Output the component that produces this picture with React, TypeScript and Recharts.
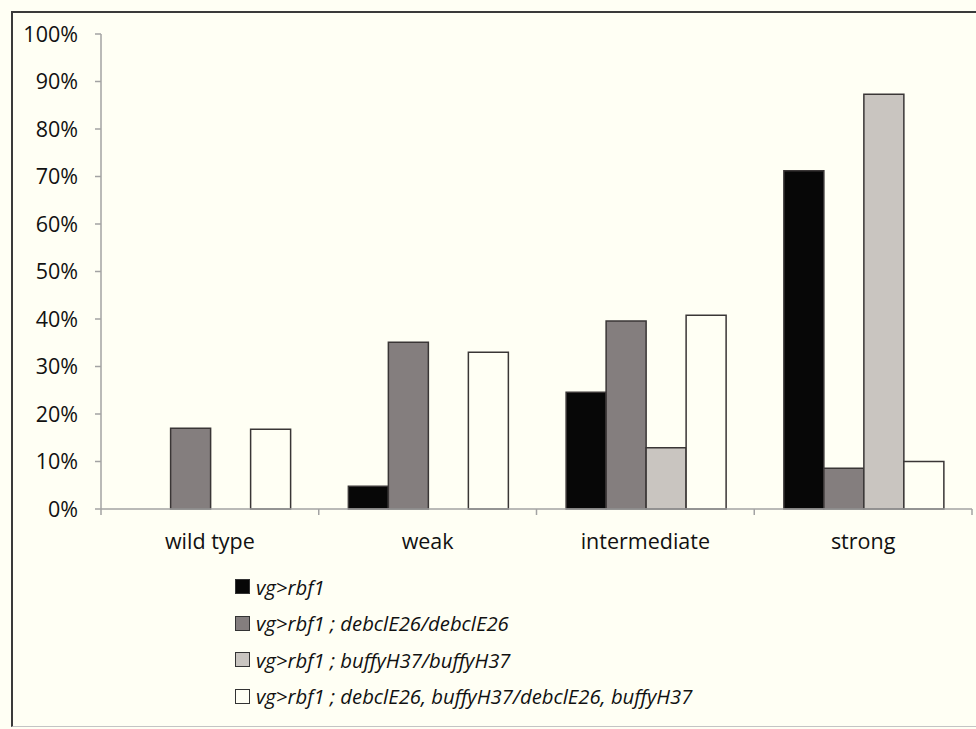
import React from 'react';
import { BarChart, Bar, XAxis, YAxis, Legend } from 'recharts';

const categories = ['wild type', 'weak', 'intermediate', 'strong'];
const vgRbf1 = [0, 4.8, 24.6, 71.2];
const vgRbf1Debcl = [17.0, 35.1, 39.6, 8.6];
const vgRbf1Buffy = [0, 0, 12.9, 87.3];
const vgRbf1DebclBuffy = [16.8, 33.0, 40.8, 10.0];
const yTicks = [0, 10, 20, 30, 40, 50, 60, 70, 80, 90, 100];

const seriesNames = [
  'vg>rbf1',
  'vg>rbf1 ; debclE26/debclE26',
  'vg>rbf1 ; buffyH37/buffyH37',
  'vg>rbf1 ; debclE26, buffyH37/debclE26, buffyH37',
];
const seriesKeys = ['s1', 's2', 's3', 's4'];
const seriesColors = ['#070707', '#847e7e', '#c9c5c0', '#fffff4'];

const data = categories.map((c, i) => ({
  name: c,
  s1: vgRbf1[i],
  s2: vgRbf1Debcl[i],
  s3: vgRbf1Buffy[i],
  s4: vgRbf1DebclBuffy[i],
}));

const BG = '#fffff4';
const AXIS = '#a3a3a3';
const TEXT = '#111111';
const FONT = '"Open Sans", sans-serif';
const FS = 21.5;
const LEGEND_FS = 20.3;

const XTick = (props: any) => {
  const { x, y, payload, index, width } = props;
  const n = categories.length;
  const band = typeof width === 'number' && width > 0 ? width / n : 217.75;
  const axisY = y - 6;
  const left = x - band / 2;
  return (
    <g>
      <line x1={left} x2={left} y1={axisY} y2={axisY + 6} stroke={AXIS} strokeWidth={1.5} />
      {index === n - 1 && (
        <line x1={left + band} x2={left + band} y1={axisY} y2={axisY + 6} stroke={AXIS} strokeWidth={1.5} />
      )}
      <text x={x} y={axisY + 40} textAnchor="middle" fill={TEXT} fontFamily={FONT} fontSize={FS}>
        {payload.value}
      </text>
    </g>
  );
};

const LegendContent = () => (
  <div style={{ fontFamily: FONT, fontSize: LEGEND_FS, fontStyle: 'italic', color: TEXT }}>
    {seriesNames.map((name, i) => (
      <div key={name} style={{ display: 'flex', alignItems: 'center', height: 36.5, whiteSpace: 'nowrap' }}>
        <span
          style={{
            display: 'inline-block',
            width: 13,
            height: 13,
            background: seriesColors[i],
            border: '1px solid #333',
            marginRight: 6,
          }}
        />
        <span>{name}</span>
      </div>
    ))}
  </div>
);

export default function App() {
  return (
    <div
      style={{
        position: 'fixed',
        left: 0,
        top: 0,
        width: 976,
        height: 729,
        background: BG,
        overflow: 'hidden',
      }}
    >
      <div
        style={{
          position: 'absolute',
          left: 11,
          top: 11,
          width: 1000,
          height: 713,
          borderLeft: '2px solid #3a3a3a',
          borderTop: '2px solid #3a3a3a',
          borderBottom: '1px solid #c4c4c4',
        }}
      />
      <div style={{ position: 'absolute', left: 0, top: 0 }}>
        <BarChart
          width={976}
          height={729}
          data={data}
          margin={{ top: 34, right: 4, bottom: 180, left: 0 }}
          barCategoryGap="13.6%"
          barGap={0}
        >
          <YAxis
            width={101}
            domain={[0, 100]}
            ticks={yTicks}
            interval={0}
            tickFormatter={(v: number) => `${v}%`}
            axisLine={{ stroke: AXIS, strokeWidth: 1.5 }}
            tickLine={{ stroke: AXIS, strokeWidth: 1.5 }}
            tickSize={6}
            tickMargin={17}
            tick={{ fill: TEXT, fontFamily: FONT, fontSize: FS }}
          />
          <XAxis
            dataKey="name"
            height={40}
            interval={0}
            axisLine={{ stroke: AXIS, strokeWidth: 1.5 }}
            tickLine={false}
            tickSize={6}
            tickMargin={0}
            tick={<XTick />}
          />
          {seriesKeys.map((k, i) => (
            <Bar
              key={k}
              dataKey={k}
              name={seriesNames[i]}
              fill={seriesColors[i]}
              stroke="#3a3636"
              strokeWidth={1.5}
              isAnimationActive={false}
            />
          ))}
          <Legend
            layout="vertical"
            align="center"
            verticalAlign="middle"
            content={<LegendContent />}
            wrapperStyle={{ position: 'absolute', left: 235, top: 568.5, width: 700, height: 150 }}
          />
        </BarChart>
      </div>
    </div>
  );
}
